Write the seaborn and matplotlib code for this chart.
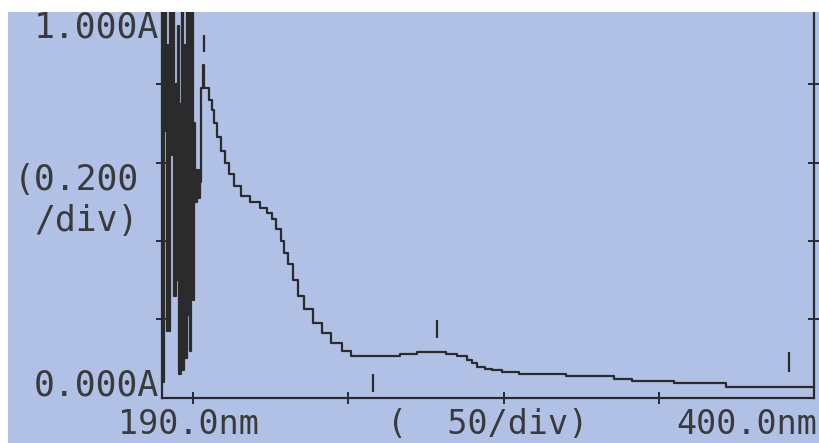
import matplotlib
matplotlib.use("Agg")
import matplotlib.pyplot as plt
from matplotlib.patches import Rectangle
import seaborn as sns
import pandas as pd

# ---- data ----
# noisy region near the lamp cut-off (nm, absorbance), drawn as steps
noise_wl = [190.0, 190.4, 190.7, 191.2, 191.6, 192.0, 192.3, 192.7, 193.2, 193.6,
            194.0, 194.4, 194.8, 195.2, 195.6, 196.0, 196.4, 196.8, 197.2, 197.5,
            197.9, 198.3, 198.7, 199.1, 199.5, 199.9, 200.3, 200.7, 201.2, 201.8, 202.3]
noise_abs = [1.15, 0.04, 1.15, 0.68, 0.17, 0.90, 0.17, 1.15, 0.62, 1.15,
             0.26, 0.80, 0.30, 0.95, 0.06, 0.75, 1.15, 0.07, 0.90, 0.10,
             1.15, 0.21, 1.15, 0.12, 1.15, 0.25, 0.70, 0.50, 0.58, 0.51, 0.55]

# main spectrum (nm, absorbance)
spec_wl = [202.6, 203.1, 203.4, 205.2, 206.2, 206.9, 207.8, 209.0, 210.2, 211.6,
           213.2, 215.5, 218.5, 221.5, 223.8, 225.3, 226.8, 228.2, 229.3, 230.7,
           232.2, 233.8, 235.8, 238.5, 241.5, 244.5, 248.0, 251.0, 266.5, 272.0,
           281.6, 284.9, 288.1, 290.0, 291.6, 293.9, 296.4, 299.6, 305.1, 320.2,
           335.7, 341.4, 354.9, 371.7, 400.0]
spec_abs = [0.79, 0.85, 0.79, 0.76, 0.735, 0.70, 0.665, 0.63, 0.60, 0.57,
            0.54, 0.515, 0.50, 0.485, 0.47, 0.455, 0.43, 0.40, 0.37, 0.34,
            0.30, 0.26, 0.225, 0.19, 0.165, 0.14, 0.118, 0.105, 0.112, 0.117,
            0.11, 0.105, 0.097, 0.089, 0.079, 0.074, 0.069, 0.064, 0.059, 0.054,
            0.046, 0.041, 0.036, 0.028, 0.028]

# peak / valley markers
mark_wl = [203.5, 257.8, 278.6, 391.9]
mark_lo = [0.883, 0.015, 0.153, 0.066]
mark_hi = [0.926, 0.061, 0.199, 0.117]

x_ticks = [200, 250, 300, 350]
y_ticks = [0.2, 0.4, 0.6, 0.8]

# ---- styling ----
sns.set_style("white")
plt.rcParams["font.family"] = ["DejaVu Sans Mono", "DejaVu Sans"]

BLUE = (177 / 255, 193 / 255, 229 / 255)
INK = "#2b2b2b"
TXT = "#3a3a3a"
W, H = 820, 443

fig = plt.figure(figsize=(W / 100, H / 100), dpi=100, facecolor="white")

# blue screen area
fig.add_artist(Rectangle((8 / W, 0), 812 / W, 431 / H, transform=fig.transFigure,
                         facecolor=BLUE, edgecolor="none", zorder=-5))

ax_l, ax_r, ax_b, ax_t = 162, 814, 397.5, 6
ax = fig.add_axes([ax_l / W, (H - ax_b) / H, (ax_r - ax_l) / W, (ax_b - ax_t) / H])
ax.set_facecolor("none")

df = pd.DataFrame({"wl": noise_wl + spec_wl, "A": noise_abs + spec_abs})
sns.lineplot(data=df, x="wl", y="A", ax=ax, estimator=None, sort=False,
             drawstyle="steps-post", color=INK, linewidth=1.6)

ax.vlines(mark_wl, mark_lo, mark_hi, color=INK, linewidth=1.6)

ax.set_xlim(190, 400)
ax.set_ylim(0, 1.0)
ax.set_xticks(x_ticks)
ax.set_yticks(y_ticks)
ax.set_xticklabels([])
ax.set_yticklabels([])
ax.set_xlabel("")
ax.set_ylabel("")
ax.tick_params(axis="both", direction="inout", length=8, width=1.4, color=INK,
               left=True, bottom=True, right=True, top=False)
for side in ["left", "bottom", "right"]:
    ax.spines[side].set_visible(True)
    ax.spines[side].set_color(INK)
    ax.spines[side].set_linewidth(1.6)
ax.spines["top"].set_visible(False)


def ptext(x, y, s, ha, size=25):
    fig.text(x / W, (H - y) / H, s, ha=ha, va="baseline", fontsize=size,
             color=TXT, zorder=5, family=["DejaVu Sans Mono", "DejaVu Sans"])


ptext(159, 37, "1.000A", "right")
ptext(139, 190, "(0.200", "right")
ptext(139, 231, "/div)", "right")
ptext(159, 396, "0.000A", "right")
ptext(118, 434, "190.0nm", "left", 24)
ptext(387, 434, "(  50/div)", "left", 24)
ptext(817, 434, "400.0nm", "right", 24)

# white strip at top of the screenshot
fig.add_artist(Rectangle((0, (H - 12) / H), 1, 12 / H, transform=fig.transFigure,
                         facecolor="white", edgecolor="none", zorder=10))

fig.savefig("out.png", dpi=100, facecolor="white")
